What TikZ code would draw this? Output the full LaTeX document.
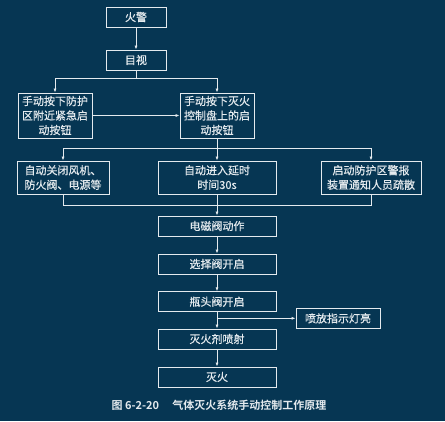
\documentclass[tikz,border=0pt]{standalone}
\usepackage{fontspec}
\setmainfont{Noto Sans CJK SC}
\newfontfamily\boxfont{Noto Sans CJK SC}[FakeBold=0.5]
\newfontfamily\cjkbold{Noto Sans CJK SC Bold}
\usetikzlibrary{arrows.meta}
\definecolor{bg}{HTML}{063653}
\definecolor{fg}{HTML}{E4EAEE}
\tikzset{
  box/.style={draw=fg, line width=0.8pt, text=fg, inner sep=0pt, align=center, font=\boxfont\fontsize{11}{14.5}\selectfont},
  conn/.style={draw=fg, line width=0.7pt},
  arr/.style={conn, -{Latex[length=4pt,width=3pt]}},
}
\begin{document}
\begin{tikzpicture}[x=1pt,y=-1pt]
\fill[bg] (0,0) rectangle (445,421);
\useasboundingbox (0,0) rectangle (445,421);
\node[box, minimum width=60pt, minimum height=20pt] (fire) at (136,17) {火警};
\node[box, minimum width=60pt, minimum height=20pt] (look) at (136,60) {目视};
\node[box, minimum width=74pt, minimum height=45pt] (mA) at (55,115.5) {手动按下防护\\区附近紧急启\\动按钮};
\node[box, minimum width=74pt, minimum height=45pt] (mB) at (217,115.5) {手动按下灭火\\控制盘上的启\\动按钮};
\node[box, minimum width=92pt, minimum height=33pt] (ra) at (63,177.5) {自动关闭风机、\\防火阀、电源等};
\node[box, minimum width=118pt, minimum height=33pt] (rb) at (217,177.5) {自动进入延时\\时间30s};
\node[box, minimum width=100pt, minimum height=33pt] (rc) at (371,177.5) {启动防护区警报\\装置通知人员疏散};
\node[box, minimum width=118pt, minimum height=20pt] (em) at (217,226) {电磁阀动作};
\node[box, minimum width=118pt, minimum height=20pt] (sel) at (217,264) {选择阀开启};
\node[box, minimum width=118pt, minimum height=20pt] (bot) at (217,301.7) {瓶头阀开启};
\node[box, minimum width=84pt, minimum height=19.5pt] (ind) at (338,318.3) {喷放指示灯亮};
\node[box, minimum width=118pt, minimum height=20pt] (spray) at (217,339) {灭火剂喷射};
\node[box, minimum width=118pt, minimum height=20pt] (out) at (217,377) {灭火};
\node[text=fg, font=\cjkbold\fontsize{11}{13}\selectfont, inner sep=0pt] (cap) at (219,405) {图 6-2-20\hspace{1.2em}气体灭火系统手动控制工作原理};
\draw[arr] (fire.south) -- (look.north);
\coordinate (j1) at ([yshift=-8pt]look.south);
\draw[arr] (look.south) -- (j1) -| (mA.north);
\draw[arr] (j1) -| (mB.north);
\draw[arr] (mA.east) -- (mB.west);
\coordinate (j2) at ([yshift=-10pt]mB.south);
\draw[arr] (mB.south) -- (rb.north);
\draw[arr] (j2) -| (ra.north);
\draw[arr] (j2) -| (rc.north);
\coordinate (j3) at ([yshift=-11pt]ra.south);
\draw[conn] (ra.south) -- (j3) -| (rc.south);
\draw[arr] (rb.south) -- (em.north);
\draw[arr] (em.south) -- (sel.north);
\draw[arr] (sel.south) -- (bot.north);
\draw[arr] (bot.south) -- (spray.north);
\coordinate (j4) at (bot.south |- ind.west);
\draw[arr] (j4) -- (ind.west);
\draw[arr] (spray.south) -- (out.north);
\end{tikzpicture}
\end{document}
